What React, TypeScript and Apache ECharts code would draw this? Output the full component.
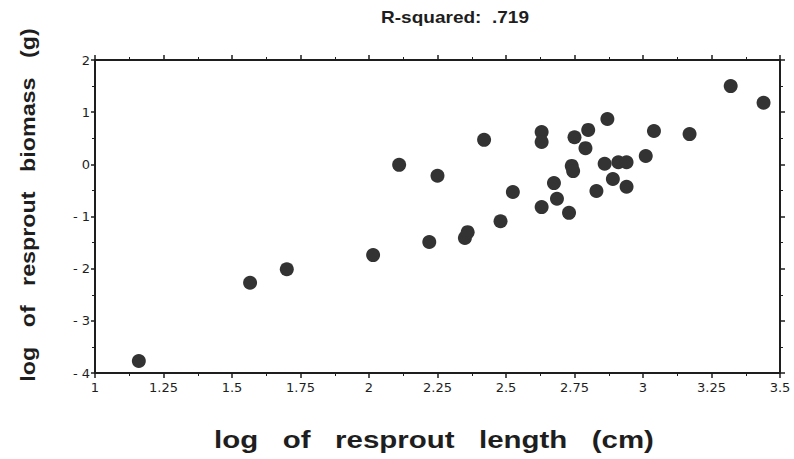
import React, { useEffect, useRef } from "react";
import * as echarts from "echarts";

const lengthLog = [
  1.16, 1.566, 1.70, 2.015, 2.11, 2.22, 2.25, 2.35, 2.36, 2.42, 2.48, 2.525,
  2.63, 2.63, 2.63, 2.675, 2.686, 2.73, 2.74, 2.745, 2.75, 2.79, 2.80, 2.83,
  2.86, 2.87, 2.89, 2.91, 2.94, 2.94, 3.01, 3.04, 3.17, 3.32, 3.44,
];
const biomassLog = [
  -3.77, -2.27, -2.01, -1.74, -0.01, -1.49, -0.22, -1.41, -1.30, 0.47, -1.09, -0.53,
  -0.82, 0.62, 0.43, -0.36, -0.66, -0.93, -0.03, -0.13, 0.52, 0.31, 0.66, -0.51,
  0.01, 0.87, -0.28, 0.04, 0.04, -0.43, 0.16, 0.64, 0.58, 1.50, 1.18,
];
const titleText = "R-squared:  .719";
const xTitle = "log   of   resprout   length   (cm)";
const yTitle = "log   of   resprout   biomass   (g)";

const FONT = "'Liberation Sans', Arial, sans-serif";
const TICKFONT = "'DejaVu Sans', sans-serif";
const INK = "#1e1e1e";

export default function App() {
  const ref = useRef<HTMLDivElement>(null);
  useEffect(() => {
    if (!ref.current) return;
    const chart = echarts.init(ref.current, undefined, { renderer: "svg" });
    const data = lengthLog.map((x, i) => [x, biomassLog[i]]);
    const axisLine = { show: true, onZero: false, lineStyle: { color: INK, width: 2 } };
    const tickStyle = { lineStyle: { color: INK, width: 1.5 } };
    const minor = { show: true, splitNumber: 2, length: 3, lineStyle: { color: INK } };
    chart.setOption({
      animation: false,
      backgroundColor: "#fff",
      grid: { left: 95, right: 14, top: 60, bottom: 86, containLabel: false },
      xAxis: [
        {
          type: "value", position: "bottom", min: 1, max: 3.5, interval: 0.25,
          axisLine, splitLine: { show: false },
          axisTick: { show: true, inside: false, length: 5, ...tickStyle },
          minorTick: minor,
          axisLabel: { color: INK, fontFamily: TICKFONT, fontSize: 13, margin: 8 },
        },
        {
          type: "value", position: "top", min: 1, max: 3.5, interval: 0.25,
          axisLine, splitLine: { show: false },
          axisTick: { show: true, inside: false, length: 5, ...tickStyle },
          minorTick: minor,
          axisLabel: { show: false },
        },
      ],
      yAxis: [
        {
          type: "value", position: "left", min: -4, max: 2, interval: 1,
          axisLine, splitLine: { show: false },
          axisTick: { show: true, inside: false, length: 4, ...tickStyle },
          minorTick: minor,
          axisLabel: {
            color: INK, fontFamily: TICKFONT, fontSize: 13, margin: 5,
            formatter: (v: number) => (v < 0 ? "- " + Math.abs(v) : String(v)),
          },
        },
        {
          type: "value", position: "right", min: -4, max: 2, interval: 1,
          axisLine, splitLine: { show: false },
          axisTick: { show: true, inside: false, length: 5, ...tickStyle },
          minorTick: minor,
          axisLabel: { show: false },
        },
      ],
      series: [
        {
          type: "scatter",
          xAxisIndex: 0,
          yAxisIndex: 0,
          symbol: "circle",
          symbolSize: 14,
          itemStyle: { color: "#333", opacity: 1 },
          data,
        },
      ],
      graphic: [
        {
          type: "text", x: 455, y: 17, scaleX: 1.12,
          style: { text: titleText, font: `bold 17px ${FONT}`, fill: INK, align: "center", verticalAlign: "middle" },
        },
        {
          type: "text", x: 434, y: 440, scaleX: 1.28,
          style: { text: xTitle, font: `bold 23px ${FONT}`, fill: INK, align: "center", verticalAlign: "middle" },
        },
        {
          type: "text", x: 28, y: 205, rotation: Math.PI / 2, scaleX: 1.11,
          style: { text: yTitle, font: `bold 21px ${FONT}`, fill: INK, align: "center", verticalAlign: "middle" },
        },
      ],
    });
    return () => chart.dispose();
  }, []);
  return <div ref={ref} style={{ width: 794, height: 459, position: "absolute", left: 0, top: 0 }} />;
}
